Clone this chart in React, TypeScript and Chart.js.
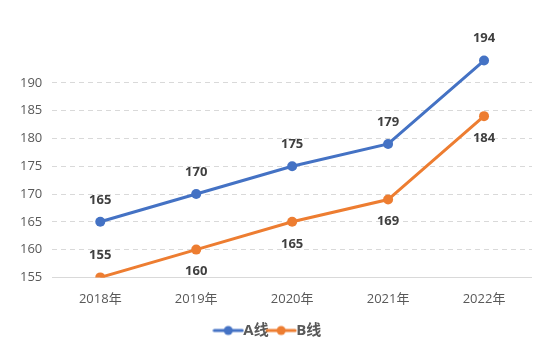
import React, { useEffect, useRef } from "react";
import { Chart, registerables } from "chart.js";

Chart.register(...registerables);

const categories = ["2018年", "2019年", "2020年", "2021年", "2022年"];
const seriesA = [165, 170, 175, 179, 194];
const seriesB = [155, 160, 165, 169, 184];
const seriesNames = ["A线", "B线"];
const yTicks = [155, 160, 165, 170, 175, 180, 185, 190];
// label placement per point: true = above
const labelAboveA = [true, true, true, true, true];
const labelAboveB = [true, false, false, false, false];

const BLUE = "#4472C4";
const ORANGE = "#ED7D31";
const FONT = "'Open Sans', 'Noto Sans CJK SC', sans-serif";

function legendIcon(color: string) {
  const c = document.createElement("canvas");
  c.width = 32;
  c.height = 12;
  const ctx = c.getContext("2d")!;
  ctx.strokeStyle = color;
  ctx.lineWidth = 3;
  ctx.lineCap = "round";
  ctx.beginPath();
  ctx.moveTo(2, 6);
  ctx.lineTo(30, 6);
  ctx.stroke();
  ctx.fillStyle = color;
  ctx.beginPath();
  ctx.arc(16, 6, 4.5, 0, Math.PI * 2);
  ctx.fill();
  return c;
}

const labelPlugin = {
  id: "pointLabels",
  afterDatasetsDraw(chart: any) {
    const ctx = chart.ctx;
    ctx.save();
    ctx.font = `bold 13px ${FONT}`;
    ctx.fillStyle = "#404040";
    ctx.textAlign = "center";
    ctx.textBaseline = "middle";
    const placements = [labelAboveA, labelAboveB];
    chart.data.datasets.forEach((ds: any, di: number) => {
      const meta = chart.getDatasetMeta(di);
      meta.data.forEach((pt: any, i: number) => {
        const above = placements[di][i];
        const y = above ? pt.y - 22 : pt.y + 22;
        ctx.fillText(String(ds.data[i]), pt.x, y);
      });
    });
    ctx.restore();
  },
};

export default function App() {
  const ref = useRef<HTMLCanvasElement>(null);
  useEffect(() => {
    const iconA = legendIcon(BLUE);
    const iconB = legendIcon(ORANGE);
    const chart = new Chart(ref.current!, {
      type: "line",
      data: {
        labels: categories,
        datasets: [
          {
            label: seriesNames[0],
            data: seriesA,
            borderColor: BLUE,
            backgroundColor: BLUE,
            borderWidth: 3,
            pointRadius: 5,
            pointBorderWidth: 0,
            pointHoverRadius: 5,
          },
          {
            label: seriesNames[1],
            data: seriesB,
            borderColor: ORANGE,
            backgroundColor: ORANGE,
            borderWidth: 3,
            pointRadius: 5,
            pointBorderWidth: 0,
            pointHoverRadius: 5,
          },
        ],
      },
      options: {
        animation: false,
        responsive: false,
        maintainAspectRatio: false,
        layout: { padding: { top: 55, right: 18, left: 10, bottom: 12 } },
        scales: {
          x: {
            offset: true,
            grid: { display: false },
            border: { display: false },
            ticks: { color: "#595959", font: { family: FONT, size: 13 }, padding: 6 },
            afterFit: (axis: any) => {
              axis.height += 5;
            },
          },
          y: {
            min: 155,
            max: 195,
            afterBuildTicks: (axis: any) => {
              axis.ticks = yTicks.map((v) => ({ value: v }));
            },
            border: {
              display: false,
              dash: (c: any) => (c.tick && c.tick.value === 155 ? [] : [5, 4]),
            } as any,
            grid: {
              color: "#D9D9D9",
              lineWidth: 1,
              drawTicks: false,
            },
            ticks: {
              color: "#595959",
              font: { family: FONT, size: 13 },
              padding: 10,
            },
          },
        },
        plugins: {
          tooltip: { enabled: false },
          legend: {
            position: "bottom",
            labels: {
              usePointStyle: true,
              color: "#595959",
              font: { family: FONT, size: 15, weight: "bold" },
              padding: 5,
              boxWidth: 32,
              generateLabels: (ch: any) =>
                ch.data.datasets.map((ds: any, i: number) => ({
                  text: ds.label,
                  pointStyle: i === 0 ? iconA : iconB,
                  fillStyle: ds.borderColor,
                  strokeStyle: ds.borderColor,
                  lineWidth: 0,
                  hidden: false,
                  datasetIndex: i,
                  fontColor: "#595959",
                })),
            },
          },
        },
      },
      plugins: [labelPlugin],
    });
    return () => chart.destroy();
  }, []);
  return (
    <div style={{ position: "fixed", left: 0, top: 0, width: 550, height: 360, background: "#fff" }}>
      <canvas ref={ref} width={550} height={360} />
    </div>
  );
}
